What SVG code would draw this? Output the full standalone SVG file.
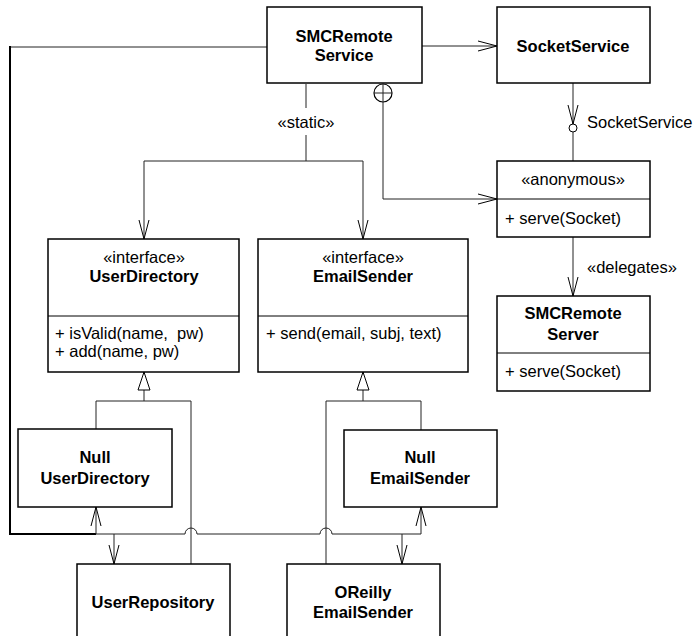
<svg xmlns="http://www.w3.org/2000/svg" width="695" height="636" viewBox="0 0 695 636">
<style>
.box{fill:#fff;stroke:#000;stroke-width:1.5}
.div{stroke:#000;stroke-width:1}
.ln{fill:none;stroke:#222;stroke-width:1}
.thick{fill:none;stroke:#000;stroke-width:2}
text{font-family:"Liberation Sans",Arial,sans-serif;font-size:16.5px;fill:#000;white-space:pre}
.b{font-weight:bold;text-anchor:middle}
.c{text-anchor:middle}
</style>
<defs>
<marker id="open" viewBox="0 0 20 12" refX="19" refY="6" markerWidth="20" markerHeight="12" orient="auto" markerUnits="userSpaceOnUse">
<path d="M0,1 L19,6 L0,11" fill="none" stroke="#000" stroke-width="1"/>
</marker>
<marker id="tri" viewBox="0 0 20 14" refX="19" refY="7" markerWidth="20" markerHeight="14" orient="auto" markerUnits="userSpaceOnUse">
<path d="M1,1 L19,7 L1,13 Z" fill="#fff" stroke="#000" stroke-width="1"/>
</marker>
</defs>

<g id="connectors">
<path class="ln" d="M422,46 H497" marker-end="url(#open)"/>
<path class="ln" d="M573,83 V124" marker-end="url(#open)"/>
<circle cx="573" cy="128" r="4" fill="#fff" stroke="#000" stroke-width="1"/>
<path class="ln" d="M573,132 V161"/>
<circle cx="383" cy="93" r="9" fill="#fff" stroke="#000" stroke-width="1.2"/>
<path class="ln" d="M374,93 H392 M383,84 V102"/>
<path class="ln" d="M383,102 V199 H497" marker-end="url(#open)"/>
<path class="ln" d="M573,237 V296" marker-end="url(#open)"/>
<path class="ln" d="M306,84 V108 M306,135 V161"/>
<path class="ln" d="M306,161 H144 V239" marker-end="url(#open)"/>
<path class="ln" d="M306,161 H363 V239" marker-end="url(#open)"/>
<path class="ln" d="M144,401 V372" marker-end="url(#tri)"/>
<path class="ln" d="M96,429 V401 H191 V564"/>
<path class="ln" d="M363,401 V372" marker-end="url(#tri)"/>
<path class="ln" d="M326,564 V401 H421 V430"/>
<path class="ln" d="M267,47 H10"/>
<path class="thick" d="M10,46 V534 H96"/>
<path class="ln" d="M96,534 H185 A6,6 0 0 1 197,534 H320 A6,6 0 0 1 332,534 H421"/>
<path class="ln" d="M96,534 V507" marker-end="url(#open)"/>
<path class="ln" d="M114,534 V564" marker-end="url(#open)"/>
<path class="ln" d="M402,534 V564" marker-end="url(#open)"/>
<path class="ln" d="M421,534 V507" marker-end="url(#open)"/>
</g>

<g id="labels">
<text class="c" x="306" y="128">«static»</text>
<text x="587" y="128">SocketService</text>
<text x="587" y="273">«delegates»</text>
</g>

<g id="SMCRemoteService">
<rect class="box" x="267" y="7" width="155" height="76"/>
<text class="b" x="344" y="42">SMCRemote</text>
<text class="b" x="344" y="61">Service</text>
</g>

<g id="SocketService">
<rect class="box" x="497" y="7" width="153" height="76"/>
<text class="b" x="573" y="52">SocketService</text>
</g>

<g id="anonymous">
<rect class="box" x="497" y="161" width="153" height="76"/>
<line class="div" x1="497" y1="199" x2="650" y2="199"/>
<text class="c" x="573" y="185">«anonymous»</text>
<text x="505" y="224">+ serve(Socket)</text>
</g>

<g id="SMCRemoteServer">
<rect class="box" x="497" y="296" width="153" height="95"/>
<line class="div" x1="497" y1="353" x2="650" y2="353"/>
<text class="b" x="573" y="319">SMCRemote</text>
<text class="b" x="573" y="340">Server</text>
<text x="505" y="377">+ serve(Socket)</text>
</g>

<g id="UserDirectory">
<rect class="box" x="48" y="239" width="191" height="133"/>
<line class="div" x1="48" y1="316" x2="239" y2="316"/>
<text class="c" x="144" y="263">«interface»</text>
<text class="b" x="144" y="282">UserDirectory</text>
<text x="55" y="339" xml:space="preserve">+ isValid(name,  pw)</text>
<text x="55" y="357">+ add(name, pw)</text>
</g>

<g id="EmailSender">
<rect class="box" x="258" y="239" width="210" height="133"/>
<line class="div" x1="258" y1="316" x2="468" y2="316"/>
<text class="c" x="363" y="263">«interface»</text>
<text class="b" x="363" y="282">EmailSender</text>
<text x="266" y="339">+ send(email, subj, text)</text>
</g>

<g id="NullUserDirectory">
<rect class="box" x="18" y="429" width="154" height="78"/>
<text class="b" x="95" y="463">Null</text>
<text class="b" x="95" y="484">UserDirectory</text>
</g>

<g id="NullEmailSender">
<rect class="box" x="344" y="430" width="153" height="77"/>
<text class="b" x="420" y="463">Null</text>
<text class="b" x="420" y="484">EmailSender</text>
</g>

<g id="UserRepository">
<rect class="box" x="77" y="564" width="153" height="80"/>
<text class="b" x="153" y="608">UserRepository</text>
</g>

<g id="OReillyEmailSender">
<rect class="box" x="287" y="564" width="153" height="80"/>
<text class="b" x="363" y="598">OReilly</text>
<text class="b" x="363" y="618">EmailSender</text>
</g>
</svg>
